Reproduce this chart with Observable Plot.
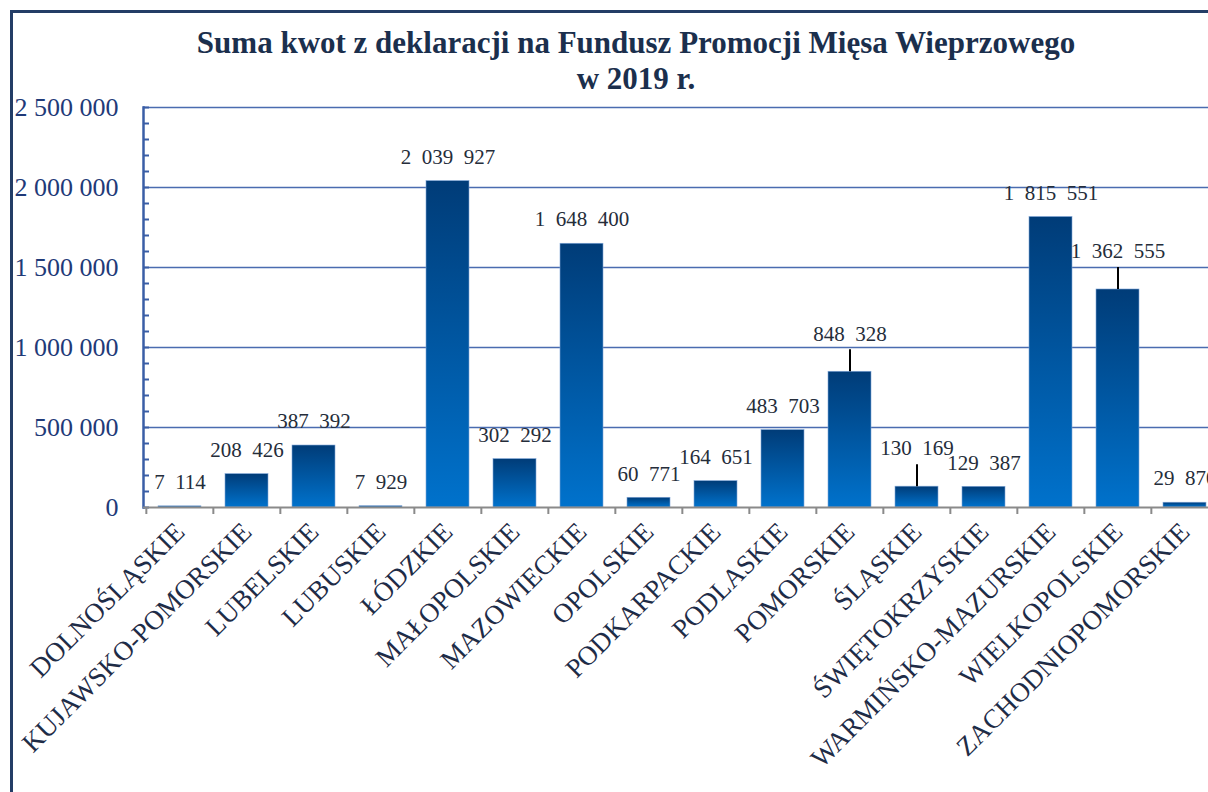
<!DOCTYPE html>
<html><head><meta charset="utf-8">
<script src="https://cdn.jsdelivr.net/npm/d3@7"></script>
<script src="https://cdn.jsdelivr.net/npm/@observablehq/plot@0.6"></script>
<style>
html,body{margin:0;padding:0;width:1208px;height:792px;overflow:hidden;background:#fff;}
#frame{position:absolute;left:10px;top:10px;width:1300px;height:900px;border-top:3px solid #233d66;border-left:3px solid #233d66;pointer-events:none;box-sizing:border-box;}
#title{position:absolute;left:0;top:25px;width:1272px;text-align:center;font:bold 31px "Liberation Serif";color:#1b2f4d;line-height:36px;}
#chart{position:absolute;left:0;top:95px;width:1300px;}
#chart svg{max-width:none;}
</style></head><body>
<div id="title">Suma kwot z deklaracji na Fundusz Promocji Mięsa Wieprzowego<br>w 2019 r.</div>
<div id="chart"></div>
<div id="frame"></div>
<script>
const regions = ["DOLNOŚLĄSKIE","KUJAWSKO-POMORSKIE","LUBELSKIE","LUBUSKIE","ŁÓDZKIE","MAŁOPOLSKIE","MAZOWIECKIE","OPOLSKIE","PODKARPACKIE","PODLASKIE","POMORSKIE","ŚLĄSKIE","ŚWIĘTOKRZYSKIE","WARMIŃSKO-MAZURSKIE","WIELKOPOLSKIE","ZACHODNIOPOMORSKIE"];
const values = [7114,208426,387392,7929,2039927,302292,1648400,60771,164651,483703,848328,130169,129387,1815551,1362555,29870];
const raisedLabels = ["POMORSKIE","ŚLĄSKIE","WIELKOPOLSKIE"];
const yTicks = [0,500000,1000000,1500000,2000000,2500000];
const minorTicks = d3.range(0, 2500001, 100000);

const data = regions.map((r,i)=>({region:r, value:values[i]}));
const normal = data.filter(d=>!raisedLabels.includes(d.region));
const raised = data.filter(d=>raisedLabels.includes(d.region));

const W = 1230, H = 697, mL = 143, mR = 10, mT = 12, mB = 285;
const plotW = W - mL - mR;
const step = plotW / regions.length;
const fmtAxis = d => d3.format(",")(d).replace(/,/g, " ");
const fmtVal = d => d3.format(",")(d).replace(/,/g, "\u2002");
const serif = "Liberation Serif";

const chart = Plot.plot({
  width: W, height: H, marginLeft: mL, marginRight: mR, marginTop: mT, marginBottom: mB,
  style: {fontFamily: serif, background: "transparent", maxWidth: "none", overflow: "visible"},
  x: {domain: regions, paddingInner: 0.36, paddingOuter: 0.18, label: null},
  y: {domain: [0, 2500000], label: null},
  marks: [
    Plot.ruleY(yTicks.filter(d=>d>0), {stroke: "#4a6cb0", strokeWidth: 1.5}),
    Plot.ruleY(minorTicks, {stroke: "#3a5ea6", strokeWidth: 2, insetRight: plotW - 6}),
    Plot.barY(data, {x: "region", y: "value", fill: "url(#barGrad)", stroke: "#7fa6d8", strokeWidth: 0.6}),
    Plot.frame({anchor: "left", stroke: "#3a5ea6", strokeWidth: 2.5}),
    Plot.ruleY([0], {stroke: "#8a8a8a", strokeWidth: 2}),
    Plot.ruleX(regions, {x: d=>d, dx: -step/2, y1: 0, y2: 0, insetBottom: -7, stroke: "#8a8a8a", strokeWidth: 2}),
    Plot.ruleX(raised, {x: "region", y1: "value", y2: "value", insetBottom: 22, stroke: "#000", strokeWidth: 2}),
    Plot.text(normal, {x: "region", y: "value", text: d=>fmtVal(d.value), dy: -24, fontSize: 21, fill: "#252d3a"}),
    Plot.text(raised, {x: "region", y: "value", text: d=>fmtVal(d.value), dy: -38, fontSize: 21, fill: "#252d3a"}),
    Plot.axisY(yTicks, {tickSize: 0, tickPadding: 25, fontSize: 26, fill: "#1f3a78", tickFormat: fmtAxis}),
    Plot.axisX({tickRotate: -45, tickSize: 0, tickPadding: 20, fontSize: 27, fill: "#1e2c47"})
  ]
});
d3.select(chart).insert("defs", ":first-child").html(
  '<linearGradient id="barGrad" x1="0" y1="0" x2="0" y2="1"><stop offset="0" stop-color="#003c78"/><stop offset="1" stop-color="#0072cc"/></linearGradient>');
document.getElementById("chart").appendChild(chart);
</script>
</body></html>
